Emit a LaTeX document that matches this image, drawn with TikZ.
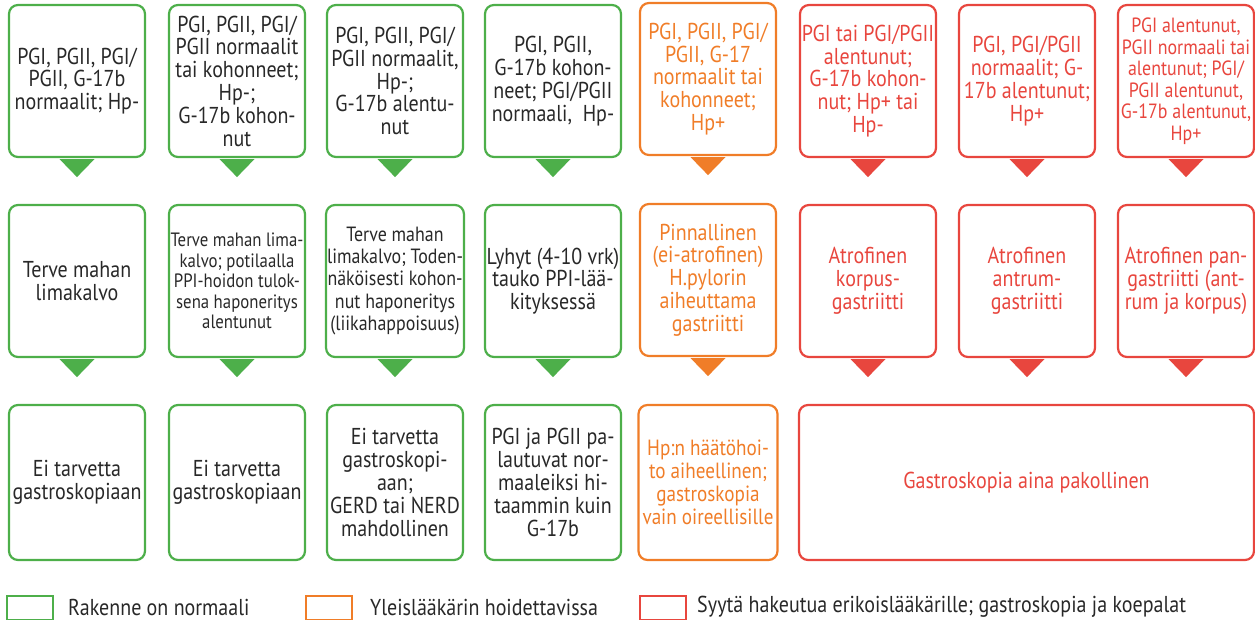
\documentclass[tikz,border=0pt]{standalone}
\usepackage{fontspec}
\setmainfont{PT Sans}[FakeStretch=0.87]
\definecolor{gr}{RGB}{77,175,74}
\definecolor{orc}{RGB}{240,125,40}
\definecolor{rdc}{RGB}{232,70,62}
\definecolor{txt}{RGB}{40,40,40}
\begin{document}
\begin{tikzpicture}[x=1pt,y=-1pt,
  box/.style={draw, line width=2.2pt, rounded corners=9pt, minimum width=136pt,
    minimum height=152pt, align=center, inner sep=1pt,
    font=\fontsize{23}{22.8}\selectfont},
  gbox/.style={box, draw=gr, text=txt},
  obox/.style={box, draw=orc, text=orc},
  rbox/.style={box, draw=rdc, text=rdc},
  small/.style={font=\fontsize{19.3}{20.5}\selectfont},
  mid/.style={font=\fontsize{20.6}{22.3}\selectfont},
  tight/.style={font=\fontsize{20.6}{21.5}\selectfont},
  lsq/.style={draw, line width=2pt, minimum width=46pt, minimum height=24pt, inner sep=0pt},
  ltxt/.style={anchor=west, text=txt, font=\fontsize{23}{24}\selectfont, inner sep=0pt}
]
\useasboundingbox (0,0) rectangle (1255,620);
% top row
\node[gbox] (t1) at (77,81) {PGI, PGII, PGI/\\PGII, G-17b\\normaalit; Hp-};
\node[gbox] (t2) at (237,81) {PGI, PGII, PGI/\\PGII normaalit\\tai kohonneet;\\Hp-;\\G-17b kohon-\\nut};
\node[gbox] (t3) at (395,81) {PGI, PGII, PGI/\\PGII normaalit,\\Hp-;\\G-17b alentu-\\nut};
\node[gbox] (t4) at (553,81) {PGI, PGII,\\G-17b kohon-\\neet; PGI/PGII\\normaali, \ Hp-};
\node[obox] (t5) at (708,79) {PGI, PGII, PGI/\\PGII, G-17\\normaalit tai\\kohonneet;\\Hp+};
\node[rbox] (t6) at (868,81) {PGI tai PGI/PGII\\alentunut;\\G-17b kohon-\\nut; Hp+ tai\\Hp-};
\node[rbox] (t7) at (1027,81) {PGI, PGI/PGII\\normaalit; G-\\17b alentunut;\\Hp+};
\node[rbox, tight] (t8) at (1186,81) {PGI alentunut,\\PGII normaali tai\\alentunut; PGI/\\PGII alentunut,\\G-17b alentunut,\\Hp+};
% middle row
\node[gbox] (m1) at (77,281) {Terve mahan\\limakalvo};
\node[gbox, small] (m2) at (237,281) {Terve mahan lima-\\kalvo; potilaalla\\PPI-hoidon tulok-\\sena haponeritys\\alentunut};
\node[gbox, mid] (m3) at (395,281) {Terve mahan\\limakalvo; Toden-\\näköisesti kohon-\\nut haponeritys\\(liikahappoisuus)};
\node[gbox] (m4) at (553,281) {Lyhyt (4-10 vrk)\\tauko PPI-lää-\\kityksessä};
\node[obox] (m5) at (708,280) {Pinnallinen\\(ei-atrofinen)\\H.pylorin\\aiheuttama\\gastriitti};
\node[rbox] (m6) at (868,281) {Atrofinen\\korpus-\\gastriitti};
\node[rbox] (m7) at (1027,281) {Atrofinen\\antrum-\\gastriitti};
\node[rbox] (m8) at (1186,281) {Atrofinen pan-\\gastriitti (ant-\\rum ja korpus)};
% bottom row
\node[gbox, minimum height=155pt] (b1) at (77,482.5) {Ei tarvetta\\gastroskopiaan};
\node[gbox, minimum height=155pt] (b2) at (237,482.5) {Ei tarvetta\\gastroskopiaan};
\node[gbox, minimum height=155pt] (b3) at (395,482.5) {Ei tarvetta\\gastroskopi-\\aan;\\GERD tai NERD\\mahdollinen};
\node[gbox, minimum height=155pt] (b4) at (553,482.5) {PGI ja PGII pa-\\lautuvat nor-\\maaleiksi hi-\\taammin kuin\\G-17b};
\node[obox, minimum height=155pt, minimum width=139pt, font=\fontsize{22}{22.8}\selectfont] (b5) at (708,482.5) {Hp:n häätöhoi-\\to aiheellinen;\\gastroskopia\\vain oireellisille};
\node[rbox, minimum height=155pt, minimum width=455pt] (b6) at (1026.5,482.5) {Gastroskopia aina pakollinen};
% pointers
\foreach \n/\c in {t1/gr,t2/gr,t3/gr,t4/gr,t5/orc,t6/rdc,t7/rdc,t8/rdc,
                   m1/gr,m2/gr,m3/gr,m4/gr,m5/orc,m6/rdc,m7/rdc,m8/rdc}{
  \fill[\c] ([xshift=-17.5pt,yshift=-1pt]\n.south) -- ([xshift=17.5pt,yshift=-1pt]\n.south)
     -- ([yshift=-19pt]\n.south) -- cycle;
}
% legend
\node[lsq, draw=gr] (l1) at (30,608) {};
\node[ltxt] (l1t) at (68,607) {Rakenne on normaali};
\node[lsq, draw=orc] (l2) at (329,608) {};
\node[ltxt] (l2t) at (370,607) {Yleislääkärin hoidettavissa};
\node[lsq, draw=rdc] (l3) at (663,608) {};
\node[ltxt] (l3t) at (697,607) {Syytä hakeutua erikoislääkärille; gastroskopia ja koepalat};
\end{tikzpicture}
\end{document}
